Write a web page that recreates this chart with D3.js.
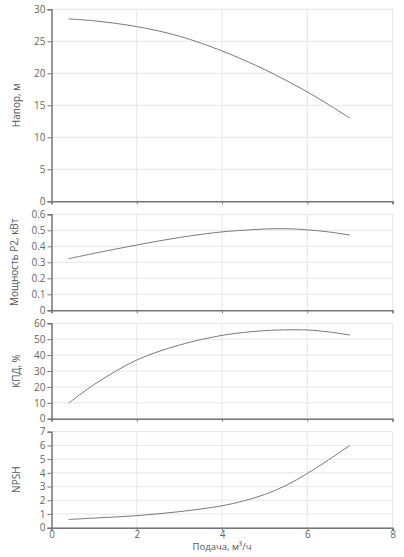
<!DOCTYPE html>
<html><head><meta charset="utf-8">
<script src="https://cdn.jsdelivr.net/npm/d3@7"></script>
<style>
html,body{margin:0;padding:0;background:#fff;}
svg{display:block;font-family:"Open Sans",sans-serif;}
</style></head>
<body>
<svg id="c" width="404" height="557"></svg>
<script>
// Data
const flow = [0.4, 1, 2, 3, 4, 4.5, 5, 5.5, 6, 6.5, 7];
const head = [28.5, 28.2, 27.3, 25.8, 23.5, 22.1, 20.6, 18.9, 17.1, 15.1, 13.0];
const power = [0.322, 0.356, 0.408, 0.455, 0.49, 0.50, 0.508, 0.51, 0.503, 0.49, 0.47];
const efficiency = [9.7, 21.5, 36.9, 46.3, 52.4, 54.2, 55.4, 55.9, 55.8, 54.6, 52.6];
const npsh = [0.6, 0.7, 0.88, 1.17, 1.6, 1.95, 2.42, 3.08, 3.95, 4.95, 6.0];
const xTicks = [0, 2, 4, 6, 8];
const xTitle = "Подача, м³/ч";

const panels = [
  {title: "Напор, м", values: head, domain: [0, 30], ticks: [0,5,10,15,20,25,30], top: 9.3, bottom: 201.3, fmt: d => d},
  {title: "Мощность P2, кВт", values: power, domain: [0, 0.6], ticks: [0,0.1,0.2,0.3,0.4,0.5,0.6], top: 214.3, bottom: 310.3, fmt: d => d === 0 ? "0" : d3.format(".1f")(d)},
  {title: "КПД, %", values: efficiency, domain: [0, 60], ticks: [0,10,20,30,40,50,60], top: 323.3, bottom: 418.7, fmt: d => d},
  {title: "NPSH", values: npsh, domain: [0, 7], ticks: [0,1,2,3,4,5,6,7], top: 431.7, bottom: 527.7, fmt: d => d}
];

const svg = d3.select("#c");
const left = 51.5, right = 392.5;
const x = d3.scaleLinear().domain([0, 8]).range([left, right]);

const gridColor = "#e6e6ec";
const axisColor = "#777";
const textColor = "#666";

panels.forEach((p, i) => {
  const y = d3.scaleLinear().domain(p.domain).range([p.bottom, p.top]);
  const g = svg.append("g");
  g.selectAll("line.hg").data(p.ticks).enter().append("line")
    .attr("x1", left).attr("x2", right)
    .attr("y1", d => y(d)).attr("y2", d => y(d))
    .attr("stroke", gridColor).attr("stroke-width", 1);
  g.selectAll("line.vg").data(xTicks.slice(1)).enter().append("line")
    .attr("x1", d => x(d)).attr("x2", d => x(d))
    .attr("y1", p.top).attr("y2", p.bottom)
    .attr("stroke", gridColor).attr("stroke-width", 1);

  const ya = d3.axisLeft(y).tickValues(p.ticks).tickSize(4).tickPadding(2).tickFormat(p.fmt);
  const yg = g.append("g").attr("transform", `translate(${left},0)`).call(ya);
  yg.select(".domain").attr("stroke", axisColor).attr("stroke-width", 1.5);
  yg.selectAll(".tick line").attr("stroke", axisColor);
  yg.selectAll(".tick text").attr("fill", textColor).style("font-size", "10px").style("font-family", "'Open Sans', sans-serif");

  const xa = d3.axisBottom(x).tickValues(xTicks).tickSize(3).tickPadding(0)
    .tickFormat(i === panels.length - 1 ? d => d : () => "");
  const xg = g.append("g").attr("transform", `translate(0,${p.bottom})`).call(xa);
  xg.select(".domain").attr("stroke", axisColor).attr("stroke-width", 1.5);
  xg.selectAll(".tick line").attr("stroke", axisColor);
  xg.selectAll(".tick text").attr("fill", textColor).style("font-size", "10px").style("font-family", "'Open Sans', sans-serif");

  const line = d3.line().x((d, k) => x(flow[k])).y(d => y(d)).curve(d3.curveCatmullRom.alpha(0.5));
  g.append("path").datum(p.values).attr("d", line)
    .attr("fill", "none").attr("stroke", "#7a7a7a").attr("stroke-width", 1);

  const cy = (p.top + p.bottom) / 2;
  g.append("text")
    .attr("transform", `translate(${i === 1 ? 18 : 20},${cy}) rotate(-90)`)
    .attr("text-anchor", "middle")
    .attr("fill", "#555").style("font-size", "10px")
    .text(p.title);
});

svg.append("text").attr("x", 222).attr("y", 550)
  .attr("text-anchor", "middle").attr("fill", "#555").style("font-size", "9.5px")
  .text(xTitle);
</script>
</body></html>
